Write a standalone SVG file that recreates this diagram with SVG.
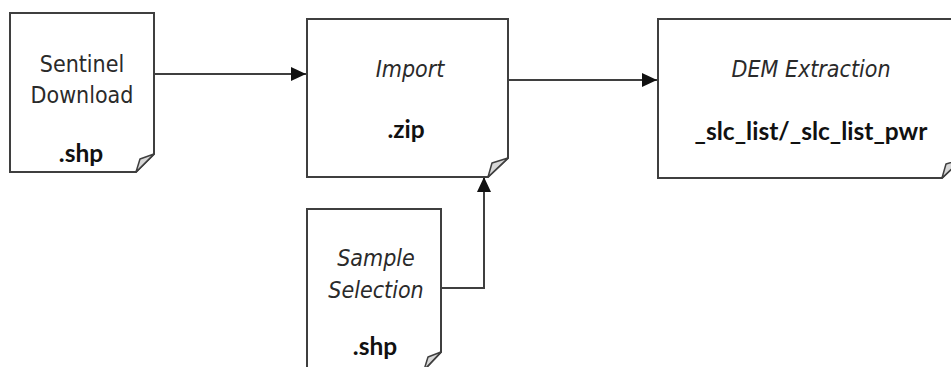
<svg xmlns="http://www.w3.org/2000/svg" width="951" height="367" viewBox="0 0 951 367">
  <style>
    .doc { fill: #ffffff; stroke: #3f3f3f; stroke-width: 2; stroke-linejoin: miter; }
    .fold { fill: #d8d8d8; stroke: #3f3f3f; stroke-width: 1.5; stroke-linejoin: round; }
    .lbl { font-family: "DejaVu Sans Condensed", "DejaVu Sans", Verdana, sans-serif; font-stretch: condensed; font-size: 23px; fill: #2a2a2a; text-anchor: middle; }
    .it { font-style: italic; }
    .ext { font-family: Lato, "Liberation Sans", sans-serif; font-weight: 700; font-size: 24.5px; fill: #111111; text-anchor: middle; }
    .wire { fill: none; stroke: #3f3f3f; stroke-width: 2; }
  </style>
  <defs>
    <marker id="arrow" viewBox="0 0 15 14" refX="15" refY="7" markerWidth="15" markerHeight="14" markerUnits="userSpaceOnUse" orient="auto">
      <path d="M0,0 L15,7 L0,14 Z" fill="#111111"/>
    </marker>
  </defs>

  <rect width="951" height="367" fill="#ffffff"/>

  <!-- connectors -->
  <g id="connectors">
    <path class="wire" d="M155,74 H306" marker-end="url(#arrow)"/>
    <path class="wire" d="M509,80 H657" marker-end="url(#arrow)"/>
    <path class="wire" d="M441,288 H484 V177" marker-end="url(#arrow)"/>
  </g>

  <!-- Sentinel Download -->
  <g id="sentinel-download">
    <path class="doc" d="M10,13 H154 V154 L136,172 H10 Z"/>
    <path class="fold" d="M136,172 L140,159 L154,154 Z"/>
    <text class="lbl" x="82" y="72">Sentinel</text>
    <text class="lbl" x="82" y="103">Download</text>
    <text class="ext" x="81" y="162">.shp</text>
  </g>

  <!-- Import -->
  <g id="import">
    <path class="doc" d="M307,19 H508 V158 L488,177 H307 Z"/>
    <path class="fold" d="M488,177 L492,163 L508,158 Z"/>
    <text class="lbl it" x="410" y="77">Import</text>
    <text class="ext" x="406" y="138">.zip</text>
  </g>

  <!-- DEM Extraction -->
  <g id="dem-extraction">
    <path class="doc" d="M658,19 H962 V159 L942,178 H658 Z"/>
    <path class="fold" d="M942,178 L946,164 L962,159 Z"/>
    <text class="lbl it" x="811" y="77">DEM Extraction</text>
    <text class="ext" x="811" y="140">_slc_list/_slc_list_pwr</text>
  </g>

  <!-- Sample Selection -->
  <g id="sample-selection">
    <path class="doc" d="M307,209 H441 V352 L424,370 H307 Z"/>
    <path class="fold" d="M424,370 L428,357 L441,352 Z"/>
    <text class="lbl it" x="376" y="266">Sample</text>
    <text class="lbl it" x="376" y="298">Selection</text>
    <text class="ext" x="375" y="355">.shp</text>
  </g>
</svg>
